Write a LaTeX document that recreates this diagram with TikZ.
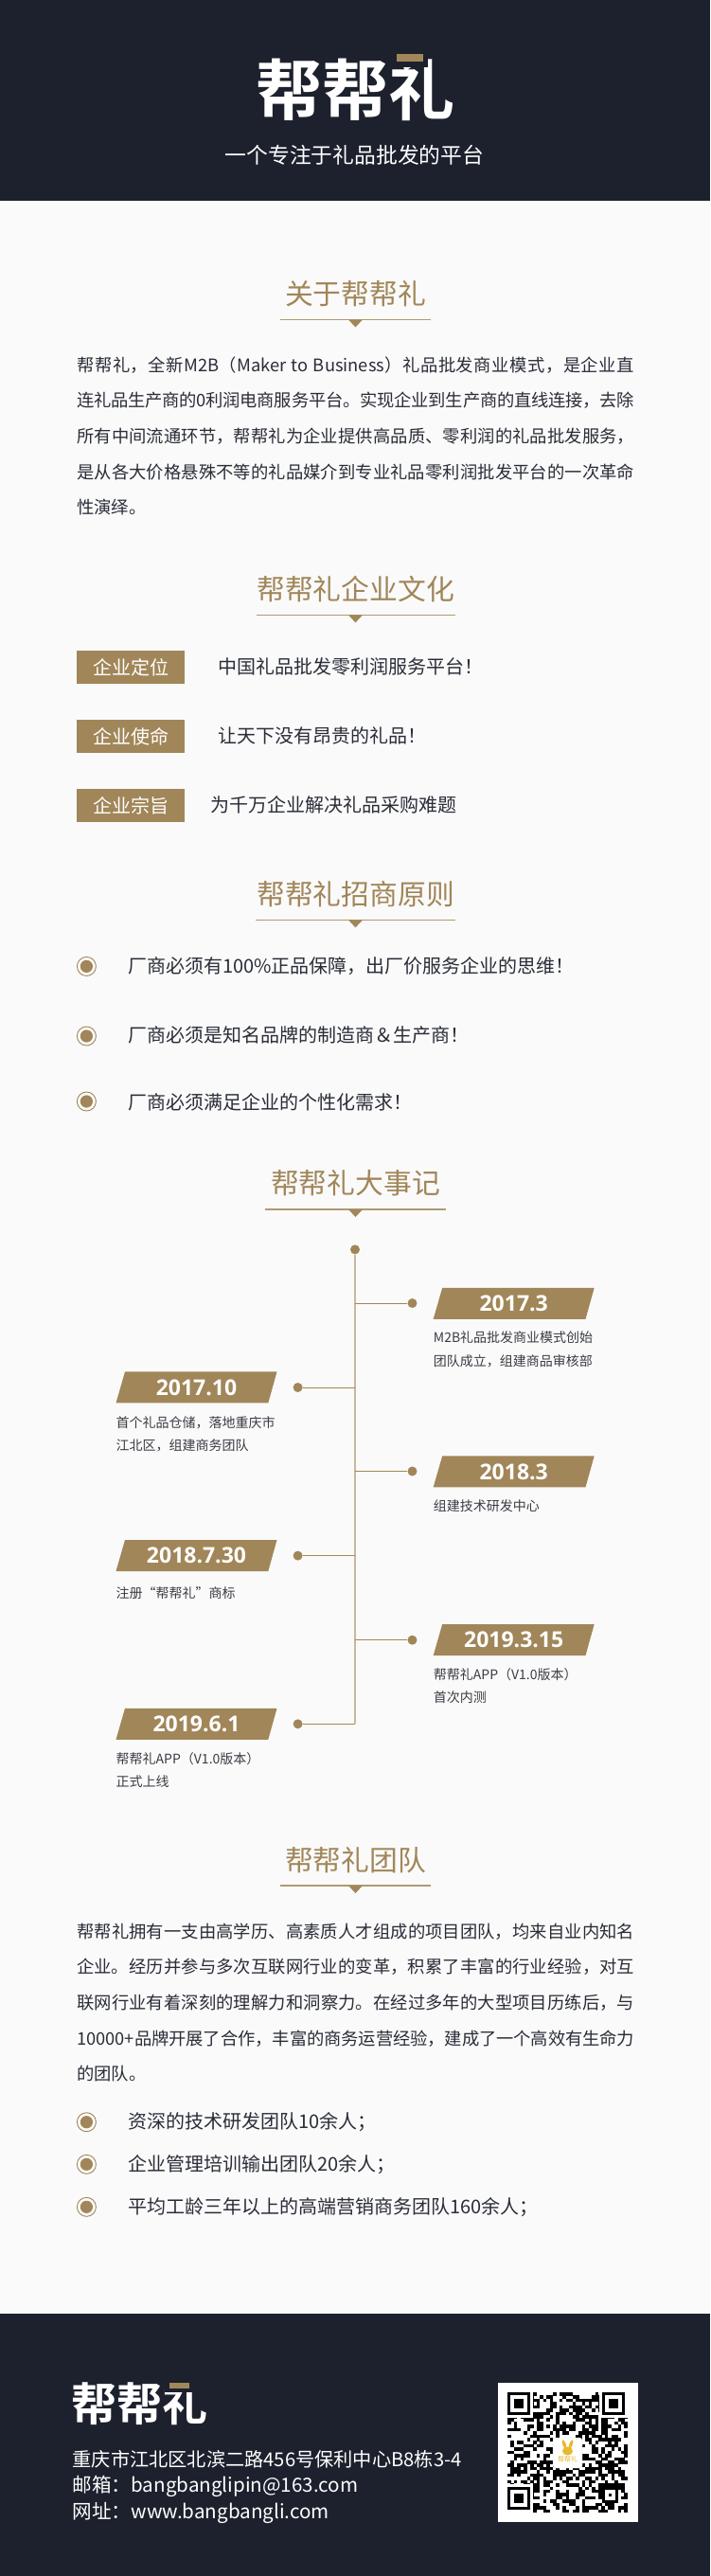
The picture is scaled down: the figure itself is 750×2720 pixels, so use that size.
\documentclass[tikz,border=0pt]{standalone}
\usepackage{fontspec}
\setmainfont{Noto Sans CJK SC}
\newfontfamily\datefont{Open Sans}
\newfontfamily\cjkbold[BoldFont={Noto Sans CJK SC Bold}]{Noto Sans CJK SC}
\XeTeXlinebreaklocale "zh"
\XeTeXlinebreakskip=0pt plus 1pt minus 0.45pt
\definecolor{ink}{HTML}{1C212D}
\definecolor{gold}{HTML}{A18659}
\definecolor{paper}{HTML}{FAFAFA}
\definecolor{bodyink}{HTML}{2A2D38}
\definecolor{ruleline}{HTML}{B09A72}
\definecolor{spine}{HTML}{C8B89C}
\definecolor{descink}{HTML}{3A3C44}
\definecolor{rabbit}{HTML}{E8B92F}
\newcommand\fs[1]{\fontsize{#1}{#1}\selectfont}
\tikzset{
  txt/.style={inner sep=0pt,anchor=base west},
  sectitle/.style={inner sep=0pt,anchor=base,text=gold,font=\fs{29.8}},
  secrule/.style={draw=ruleline,line width=1.4pt},
  para/.style={inner sep=0pt,anchor=base west,text width=589pt,align=justify,text=bodyink,font=\fontsize{18.3}{37.7}\selectfont},
  badge/.style={fill=gold,text=white,inner sep=0pt,minimum width=114pt,minimum height=35pt,font=\fs{20}},
  lbl/.style={txt,text=bodyink,font=\fs{20}},
  bullet/.style={circle,draw=gold,fill=paper,line width=0.9pt,minimum size=20pt,inner sep=0pt,
    path picture={\fill[gold] (path picture bounding box.center) circle (6.6pt);}},
  tdot/.style={circle,fill=gold,minimum size=10pt,inner sep=0pt},
  branch/.style={draw=gold,line width=1pt},
  datetxt/.style={text=white,inner sep=0pt,font=\datefont\bfseries\fs{23}},
  desc/.style={txt,text=descink,font=\fs{14}},
  foot/.style={txt,text=white},
}
\newcommand\sectionhead[6]{% name,text,centre y,half width,rule y,
  \node[sectitle] (#1) at (375.5,#3+11) {#2};
  \coordinate (#1a) at (375.5-#4,#5);
  \coordinate (#1b) at (375.5+#4,#5);
  \draw[secrule] (#1a) -- (#1b);
  \fill[gold] (368,#5) -- (383,#5) -- (375.5,#5+8) -- cycle;
}
\newcommand\datebadge[4]{% name,left x,top y,text
  \fill[gold] (#2,#3+33) -- (#2+9.5,#3) -- (#2+170,#3) -- (#2+160.8,#3+33) -- cycle;
  \node[datetxt] (#1) at (#2+85,#3+16.5) {#4};
}
\begin{document}
\begin{tikzpicture}[x=1pt,y=-1pt]
\useasboundingbox (0,0) rectangle (750,2720);
\fill[paper] (0,0) rectangle (750,2720);
\fill[ink] (0,0) rectangle (750,212);
\fill[ink] (0,2443) rectangle (750,2720);

% header
\node[inner sep=0pt,anchor=base,text=white] (logo) at (375,121) {\fontsize{70}{70}\selectfont\bfseries\cjkbold 帮帮礼};
\fill[ink] (412,48) rectangle (452,71);
\fill[gold] (419,57) rectangle (447,65);
\node[inner sep=0pt,anchor=base,text=white,font=\fs{22.8}] (tagline) at (374.5,172.5) {一个专注于礼品批发的平台};

% about
\sectionhead{s1}{关于帮帮礼}{310}{79.5}{337.5}{}
\node[para] (p1) at (81,392) {帮帮礼，全新M2B（Maker to Business）礼品批发商业模式，是企业直\linebreak
连礼品生产商的0利润电商服务平台。实现企业到生产商的直线连接，去除\linebreak
所有中间流通环节，帮帮礼为企业提供高品质、零利润的礼品批发服务，\linebreak
是从各大价格悬殊不等的礼品媒介到专业礼品零利润批发平台的一次革命\linebreak
性演绎。};

% culture
\sectionhead{s2}{帮帮礼企业文化}{622.5}{105}{649.4}{}
\node[badge] (b1) at (138,704.5) {企业定位};
\node[badge] (b2) at (138,777.7) {企业使命};
\node[badge] (b3) at (138,850.7) {企业宗旨};
\node[lbl] (l1) at (230,711.5) {中国礼品批发零利润服务平台！};
\node[lbl] (l2) at (230,784.5) {让天下没有昂贵的礼品！};
\node[lbl] (l3) at (222,857.5) {为千万企业解决礼品采购难题};

% principles
\sectionhead{s3}{帮帮礼招商原则}{944.5}{105.5}{971.4}{}
\node[bullet] (u1) at (91.4,1020.4) {};
\node[bullet] (u2) at (91.4,1094) {};
\node[bullet] (u3) at (91.4,1163) {};
\node[lbl] (ut1) at (135,1027.5) {厂商必须有100\%正品保障，出厂价服务企业的思维！};
\node[lbl] (ut2) at (135,1100) {厂商必须是知名品牌的制造商＆生产商！};
\node[lbl] (ut3) at (135,1171) {厂商必须满足企业的个性化需求！};

% timeline
\sectionhead{s4}{帮帮礼大事记}{1249.5}{95.5}{1277}{}
\node[tdot] (top) at (375,1319.4) {};
\coordinate (end) at (375,1820.3);
\draw[draw=spine,line width=2pt] (top) -- (end);
\node[tdot] (d1) at (435.5,1376) {};
\node[tdot] (d2) at (314.6,1465) {};
\node[tdot] (d3) at (435.5,1553.5) {};
\node[tdot] (d4) at (314.6,1642.6) {};
\node[tdot] (d5) at (435.5,1731.7) {};
\node[tdot] (d6) at (314.6,1820.3) {};
\coordinate (j1) at (375,1376);
\coordinate (j2) at (375,1465);
\coordinate (j3) at (375,1553.5);
\coordinate (j4) at (375,1642.6);
\coordinate (j5) at (375,1731.7);
\draw[branch] (j1) -- (d1);
\draw[branch] (j2) -- (d2);
\draw[branch] (j3) -- (d3);
\draw[branch] (j4) -- (d4);
\draw[branch] (j5) -- (d5);
\draw[branch] (end) -- (d6);
\datebadge{t1}{457.7}{1359.8}{2017.3}
\datebadge{t2}{122.5}{1448.4}{2017.10}
\datebadge{t3}{457.7}{1537.3}{2018.3}
\datebadge{t4}{122.5}{1626}{2018.7.30}
\datebadge{t5}{457.7}{1715}{2019.3.15}
\datebadge{t6}{122.5}{1803.8}{2019.6.1}
\node[desc] (e1a) at (457.7,1417.8) {M2B礼品批发商业模式创始};
\node[desc] (e1b) at (457.7,1442.2) {团队成立，组建商品审核部};
\node[desc] (e2a) at (122.5,1507.2) {首个礼品仓储，落地重庆市};
\node[desc] (e2b) at (122.5,1531.2) {江北区，组建商务团队};
\node[desc] (e3a) at (457.7,1595.2) {组建技术研发中心};
\node[desc] (e4a) at (122.5,1687.2) {注册“帮帮礼”商标};
\node[desc] (e5a) at (457.7,1773.2) {帮帮礼APP（V1.0版本）};
\node[desc] (e5b) at (457.7,1797.2) {首次内测};
\node[desc] (e6a) at (122.5,1862.2) {帮帮礼APP（V1.0版本）};
\node[desc] (e6b) at (122.5,1886.2) {正式上线};

% team
\sectionhead{s5}{帮帮礼团队}{1964.5}{79.5}{1991}{}
\node[para] (p2) at (81,2046) {帮帮礼拥有一支由高学历、高素质人才组成的项目团队，均来自业内知名\linebreak
企业。经历并参与多次互联网行业的变革，积累了丰富的行业经验，对互\linebreak
联网行业有着深刻的理解力和洞察力。在经过多年的大型项目历练后，与\linebreak
10000+品牌开展了合作，丰富的商务运营经验，建成了一个高效有生命力\linebreak
的团队。};
\node[bullet] (v1) at (91.4,2240.7) {};
\node[bullet] (v2) at (91.4,2285.3) {};
\node[bullet] (v3) at (91.4,2330.3) {};
\node[lbl] (vt1) at (135,2247.5) {资深的技术研发团队10余人；};
\node[lbl] (vt2) at (135,2292.5) {企业管理培训输出团队20余人；};
\node[lbl] (vt3) at (135,2337.5) {平均工龄三年以上的高端营销商务团队160余人；};

% footer
\node[inner sep=0pt,anchor=base west,text=white] (flogo) at (75.5,2556) {\fontsize{48}{48}\selectfont\bfseries\cjkbold 帮帮礼};
\fill[ink] (174,2505) rectangle (204,2526);
\fill[gold] (179,2516) rectangle (200,2522);
\node[foot,font=\fs{20.2}] (f1) at (76.5,2604) {重庆市江北区北滨二路456号保利中心B8栋3-4};
\node[foot,font=\fs{20.6}] (f2) at (76.5,2631) {邮箱：bangbanglipin@163.com};
\node[foot,font=\fs{20.6}] (f3) at (76.5,2659) {网址：www.bangbangli.com};

% QR code
\fill[white] (526,2516) rectangle (673.5,2663);
\pgfmathsetseed{7}
\foreach \i in {0,...,36}{\foreach \j in {0,...,36}{
  \pgfmathparse{rnd>0.5?1:0}
  \ifnum\pgfmathresult=1
    \fill[black] ({536+\i*3.43},{2526+\j*3.43}) rectangle +(3.5,3.5);
  \fi
}}
\foreach \cx/\cy in {536/2526,636/2526,536/2626}{
  \fill[white] (\cx-3,\cy-3) rectangle +(30,30);
  \fill[black] (\cx,\cy) rectangle +(24,24);
  \fill[white] (\cx+3.43,\cy+3.43) rectangle +(17.14,17.14);
  \fill[black] (\cx+6.86,\cy+6.86) rectangle +(10.28,10.28);
}
\fill[black] (636,2626) rectangle +(17,17);
\fill[white] (639.4,2629.4) rectangle +(10.2,10.2);
\fill[black] (642.8,2632.8) rectangle +(3.4,3.4);
\fill[white,draw=black!15,rounded corners=3pt] (584,2574) rectangle (615,2606);
\fill[rabbit] (599.5,2588) ellipse (5.5 and 4.5);
\fill[rabbit,rotate around={20:(596,2581)}] (596,2581) ellipse (1.8 and 5);
\fill[rabbit,rotate around={-20:(603,2581)}] (603,2581) ellipse (1.8 and 5);
\node[inner sep=0pt,text=rabbit,font=\fs{7}] (qrmark) at (599.5,2597) {帮帮礼};
\end{tikzpicture}
\end{document}
